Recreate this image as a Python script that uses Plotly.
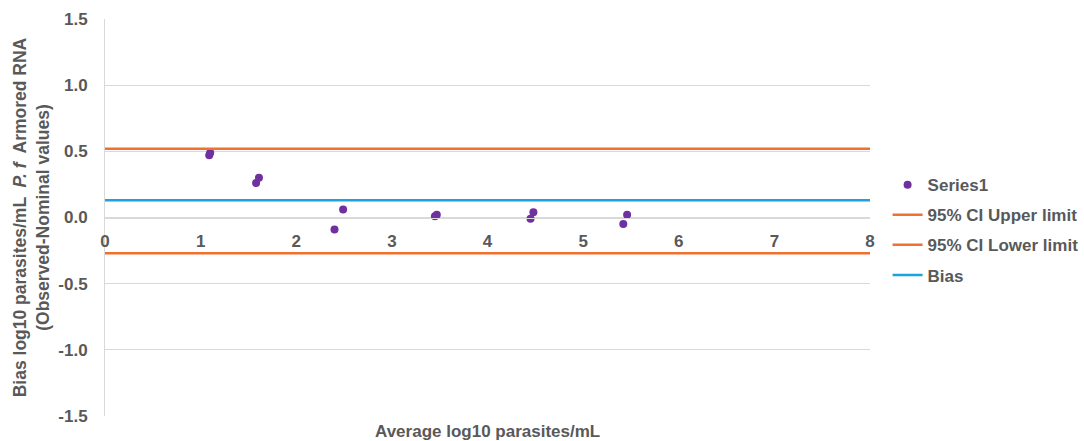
import plotly.graph_objects as go

# Bland-Altman style data: average vs. bias (observed - nominal), log10 parasites/mL
avg_log10 = [1.09, 1.10, 1.58, 1.61, 2.40, 2.49, 3.45, 3.47, 4.45, 4.48, 5.42, 5.46]
bias_vals = [0.47, 0.49, 0.26, 0.30, -0.09, 0.06, 0.01, 0.02, -0.01, 0.04, -0.05, 0.02]

x_span = [0, 8]
ci_upper = 0.52
ci_lower = -0.27
mean_bias = 0.13

x_ticks = [0, 1, 2, 3, 4, 5, 6, 7, 8]
y_ticks = [-1.5, -1.0, -0.5, 0.0, 0.5, 1.0, 1.5]

GRAY = "#595959"
FONT = "Liberation Sans, Arial, sans-serif"
ORANGE = "#F07030"
BLUE = "#1AA3DD"
PURPLE = "#7030A0"

fig = go.Figure()
fig.add_trace(go.Scatter(x=avg_log10, y=bias_vals, mode="markers", name="Series1",
                         legendgroup="a",
                         marker=dict(color=PURPLE, size=8)))
fig.add_trace(go.Scatter(x=x_span, y=[ci_upper, ci_upper], mode="lines",
                         name="95% CI Upper limit", legendgroup="b",
                         line=dict(color=ORANGE, width=2.5)))
fig.add_trace(go.Scatter(x=x_span, y=[ci_lower, ci_lower], mode="lines",
                         name="95% CI Lower limit", legendgroup="c",
                         line=dict(color=ORANGE, width=2.5)))
fig.add_trace(go.Scatter(x=x_span, y=[mean_bias, mean_bias], mode="lines",
                         name="Bias", legendgroup="d",
                         line=dict(color=BLUE, width=2.5)))

fig.update_layout(
    width=1084, height=441,
    margin=dict(l=105, r=214, t=19, b=25, autoexpand=False),
    paper_bgcolor="white", plot_bgcolor="white",
    font=dict(family=FONT, color=GRAY, size=16, weight="bold"),
    legend=dict(x=1.023, y=0.627, xanchor="left", yanchor="top",
                font=dict(size=17, color=GRAY, weight="bold"),
                tracegroupgap=5, traceorder="grouped",
                itemwidth=30, bgcolor="rgba(0,0,0,0)"),
    xaxis=dict(range=[0, 8], tickvals=x_ticks, ticktext=[str(t) for t in x_ticks],
               showgrid=False, zeroline=False,
               anchor="free", position=0.5,
               showline=True, linecolor="#D9D9D9", linewidth=1,
               ticks="outside", ticklen=8, tickcolor="rgba(0,0,0,0)",
               tickfont=dict(size=17, color=GRAY, weight="bold")),
    yaxis=dict(range=[-1.5, 1.5], tickvals=y_ticks,
               ticktext=[f"{t:.1f}" for t in y_ticks],
               showgrid=True, gridcolor="#D9D9D9", gridwidth=1,
               zeroline=False,
               showline=True, linecolor="#D9D9D9", linewidth=1,
               ticks="", ticklabelstandoff=13,
               tickfont=dict(size=17, color=GRAY, weight="bold"),
               title=dict(text="Bias log10 parasites/mL  <i>P. f</i>  Armored RNA<br>(Observed-Nominal values)",
                          font=dict(size=17.5, color=GRAY, weight="bold"),
                          standoff=4)),
    showlegend=True,
)

fig.add_annotation(text="Average log10 parasites/mL", xref="paper", yref="paper",
                   x=0.5, y=0, yshift=-15, yanchor="middle", showarrow=False,
                   font=dict(size=17, color=GRAY, weight="bold"))

fig.write_html("out.html")
